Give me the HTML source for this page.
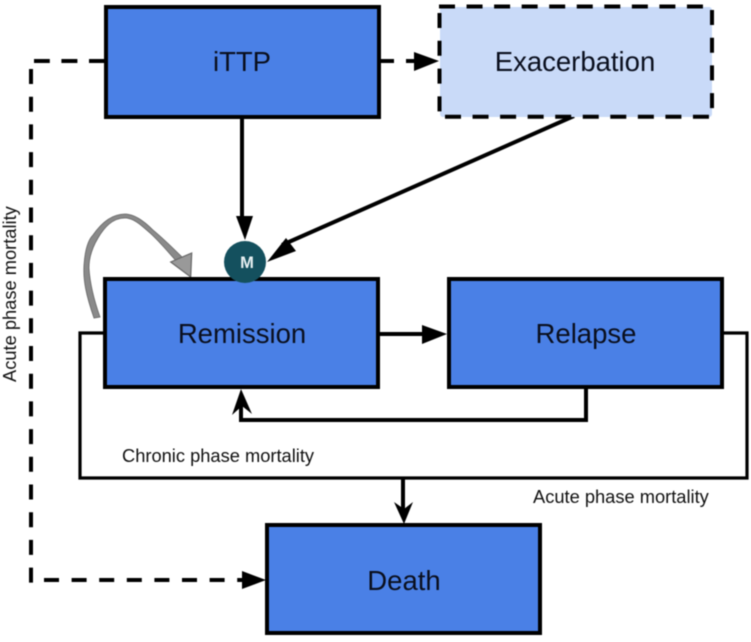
<!DOCTYPE html>
<html><head><meta charset="utf-8"><style>html,body{margin:0;padding:0;background:#fff}svg{display:block;filter:blur(0.4px)}text{font-family:"Liberation Sans",sans-serif;fill:#0a0f1e}</style></head><body>
<svg width="751" height="642" viewBox="0 0 751 642" xmlns="http://www.w3.org/2000/svg">
<g fill="none" stroke="#000" stroke-width="4">
<path d="M105 61H34" stroke-dasharray="16 11.6"/>
<path d="M31 69V584" stroke-dasharray="15 12.7"/>
<path d="M44 580H244" stroke-dasharray="15 12.6"/>
<path d="M380 61H394M406 61H418"/>
<path d="M242 117V218"/>
<path d="M574 116L282 245"/>
<path d="M379 334H428"/>
<path d="M586 388V420H241V403"/>
<path d="M105 333H80V478H747V333H722" stroke-width="3.2"/>
<path d="M403 478V510"/>
</g>
<path d="M94 318C86 295 83 280 84 265C85 250 88 240 93 235C102 222 112 214 125 214C135 214 145 222 153 230C165 240 175 250 184 259L178 263C168 252 160 242 150 233C142 226 134 218 125 218C112 218 104 228 98 238C92 248 89 258 89 268C90 285 94 300 100 317Z" fill="#8a8a8a" stroke="#666" stroke-width="0.8"/>
<polygon points="170.7,262 191.7,253 190.7,277" fill="#999" stroke="#666" stroke-width="1.2"/>
<rect x="106" y="7" width="273" height="110" fill="#4a80e6" stroke="#000" stroke-width="4"/>
<rect x="440" y="7" width="272" height="110" rx="3" fill="#c9daf8"/>
<g fill="none" stroke="#000" stroke-width="4">
<path d="M439 6.5H704" stroke-dasharray="16 11.55"/>
<path d="M712 10V109" stroke-dasharray="15 12.7"/>
<path d="M445 116.700H709" stroke-dasharray="16 11.55"/>
<path d="M439.500 13V113" stroke-dasharray="15 12.8"/>
</g>
<rect x="105" y="279" width="273" height="108" fill="#4a80e6" stroke="#000" stroke-width="4"/>
<rect x="449" y="279" width="273" height="108" fill="#4a80e6" stroke="#000" stroke-width="4"/>
<rect x="267" y="525" width="273" height="108" fill="#4a80e6" stroke="#000" stroke-width="4"/>
<g fill="#000">
<polygon points="414,52 439,61 414,71"/>
<polygon points="236,216 253,216 245,240"/>
<polygon points="267,262 286,238 296,251"/>
<polygon points="422,325 447,334 422,344"/>
<polygon points="241,389 252,414 242,406 232,415"/>
<polygon points="394,502 404,509 413,502 404,524"/>
<polygon points="242,571 266,580 242,589"/>
</g>
<circle cx="245" cy="262" r="21" fill="#14505e"/>
<text x="247" y="268" font-size="16.500" font-weight="bold" text-anchor="middle" style="fill:#e8f0f2">M</text>
<g font-size="27.500" text-anchor="middle">
<text x="242" y="71">iTTP</text>
<text x="575" y="71">Exacerbation</text>
<text x="242" y="343">Remission</text>
<text x="586" y="343">Relapse</text>
<text x="404" y="590">Death</text>
</g>
<g font-size="18.300" style="font-size:18.300px">
<text x="122" y="462" style="fill:#111">Chronic phase mortality</text>
<text x="533" y="503" style="fill:#111">Acute phase mortality</text>
<text transform="translate(16 382) rotate(-90)" style="fill:#111">Acute phase mortality</text>
</g>
</svg>
</body></html>
